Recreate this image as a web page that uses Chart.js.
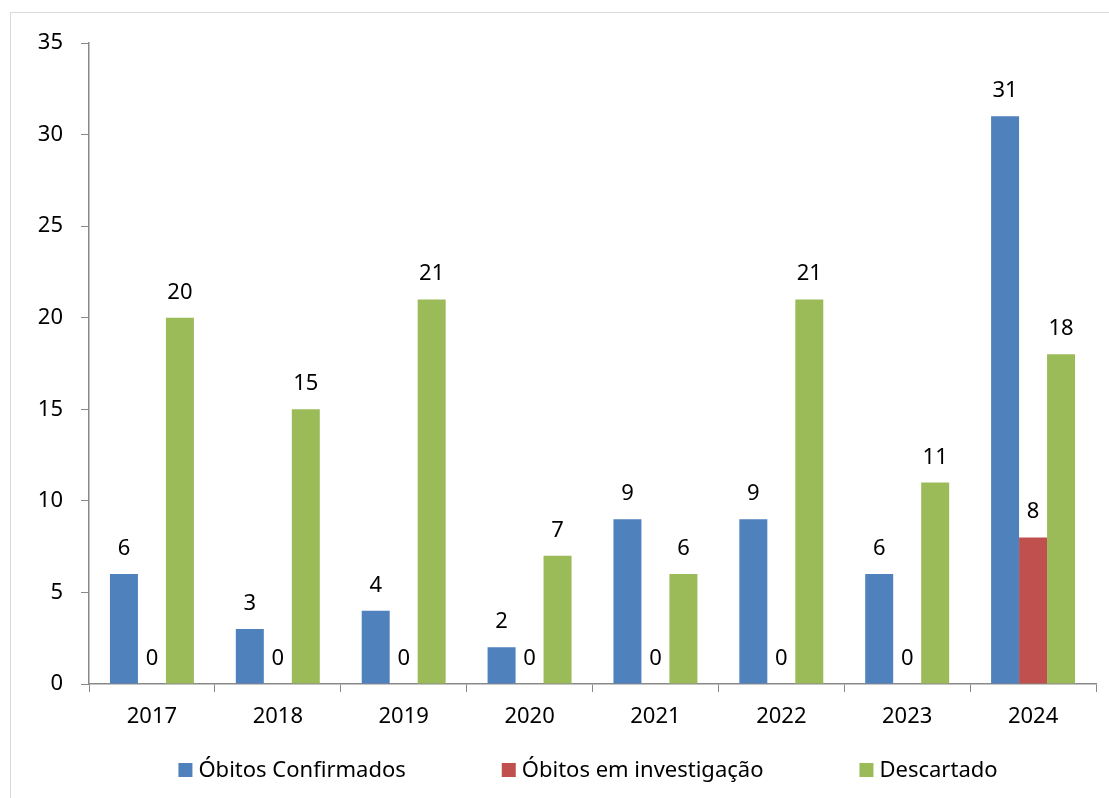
<!DOCTYPE html>
<html lang="pt-BR">
<head>
<meta charset="UTF-8">
<title>Óbitos por ano</title>
<script src="https://cdn.jsdelivr.net/npm/chart.js"></script>
<style>
    html, body { margin: 0; padding: 0; background: #fff; }
    #wrap { width: 1109px; height: 798px; position: relative; }
</style>
</head>
<body>
<div id="wrap"><canvas id="chart" width="1109" height="798"></canvas></div>
<script>
const anos = ['2017', '2018', '2019', '2020', '2021', '2022', '2023', '2024'];
const confirmados = [6, 3, 4, 2, 9, 9, 6, 31];
const investigacao = [0, 0, 0, 0, 0, 0, 0, 8];
const descartado = [20, 15, 21, 7, 6, 21, 11, 18];
const yTicks = [0, 5, 10, 15, 20, 25, 30, 35];

const FONT = '"Noto Sans", sans-serif';
const FSIZE = 22;

// moldura cinza em volta do gráfico
const frame = {
    id: 'frame',
    beforeDraw(chart) {
        const c = chart.ctx;
        c.save();
        c.strokeStyle = '#d9d9d9';
        c.lineWidth = 1;
        c.strokeRect(10.5, 12.5, chart.width + 20, chart.height + 20);
        c.restore();
    }
};

// rótulos de valor acima das barras
const valueLabels = {
    id: 'valueLabels',
    afterDatasetsDraw(chart) {
        const c = chart.ctx;
        c.save();
        c.font = FSIZE + 'px ' + FONT;
        c.fillStyle = '#000';
        c.textAlign = 'center';
        c.textBaseline = 'alphabetic';
        chart.data.datasets.forEach((ds, i) => {
            chart.getDatasetMeta(i).data.forEach((bar, j) => {
                c.fillText(String(ds.data[j]), bar.x, bar.y - 19);
            });
        });
        c.restore();
    }
};

// legenda embaixo, com espaçamento largo como no Excel
const bottomLegend = {
    id: 'bottomLegend',
    afterDraw(chart) {
        const c = chart.ctx;
        const box = 14, gapText = 6, gapItem = 96, cy = 770, cx = 588;
        c.save();
        c.font = FSIZE + 'px ' + FONT;
        c.textBaseline = 'middle';
        c.textAlign = 'left';
        const items = chart.data.datasets.map(ds => ({
            text: ds.label, color: ds.backgroundColor,
            w: box + gapText + c.measureText(ds.label).width
        }));
        const total = items.reduce((s, it) => s + it.w, 0) + gapItem * (items.length - 1);
        let x = cx - total / 2;
        items.forEach(it => {
            c.fillStyle = it.color;
            c.fillRect(x, cy - box / 2, box, box);
            c.fillStyle = '#000';
            c.fillText(it.text, x + box + gapText, cy + 1);
            x += it.w + gapItem;
        });
        c.restore();
    }
};

new Chart(document.getElementById('chart'), {
    type: 'bar',
    data: {
        labels: anos,
        datasets: [
            { label: 'Óbitos Confirmados', data: confirmados, backgroundColor: '#4F81BD' },
            { label: 'Óbitos em investigação', data: investigacao, backgroundColor: '#C0504D' },
            { label: 'Descartado', data: descartado, backgroundColor: '#9BBB59' }
        ]
    },
    options: {
        responsive: false,
        animation: false,
        categoryPercentage: 0.667,
        barPercentage: 1,
        layout: { padding: { left: 10, top: 43, right: 13, bottom: 0 } },
        plugins: {
            tooltip: { enabled: false },
            legend: { display: false }
        },
        scales: {
            x: {
                afterFit(axis) { axis.height = 114; },
                grid: { drawOnChartArea: false, color: '#898989', tickLength: 8, offset: true },
                border: { color: '#898989', width: 1.5 },
                ticks: { font: { family: FONT, size: FSIZE }, color: '#000', padding: 12 }
            },
            y: {
                min: 0,
                max: 35,
                afterBuildTicks(axis) { axis.ticks = yTicks.map(v => ({ value: v })); },
                afterFit(axis) { axis.width = 79; },
                grid: { drawOnChartArea: false, color: '#898989', tickLength: 8 },
                border: { color: '#898989', width: 1.5 },
                ticks: { font: { family: FONT, size: FSIZE }, color: '#000', padding: 18 }
            }
        }
    },
    plugins: [frame, valueLabels, bottomLegend]
});
</script>
</body>
</html>
